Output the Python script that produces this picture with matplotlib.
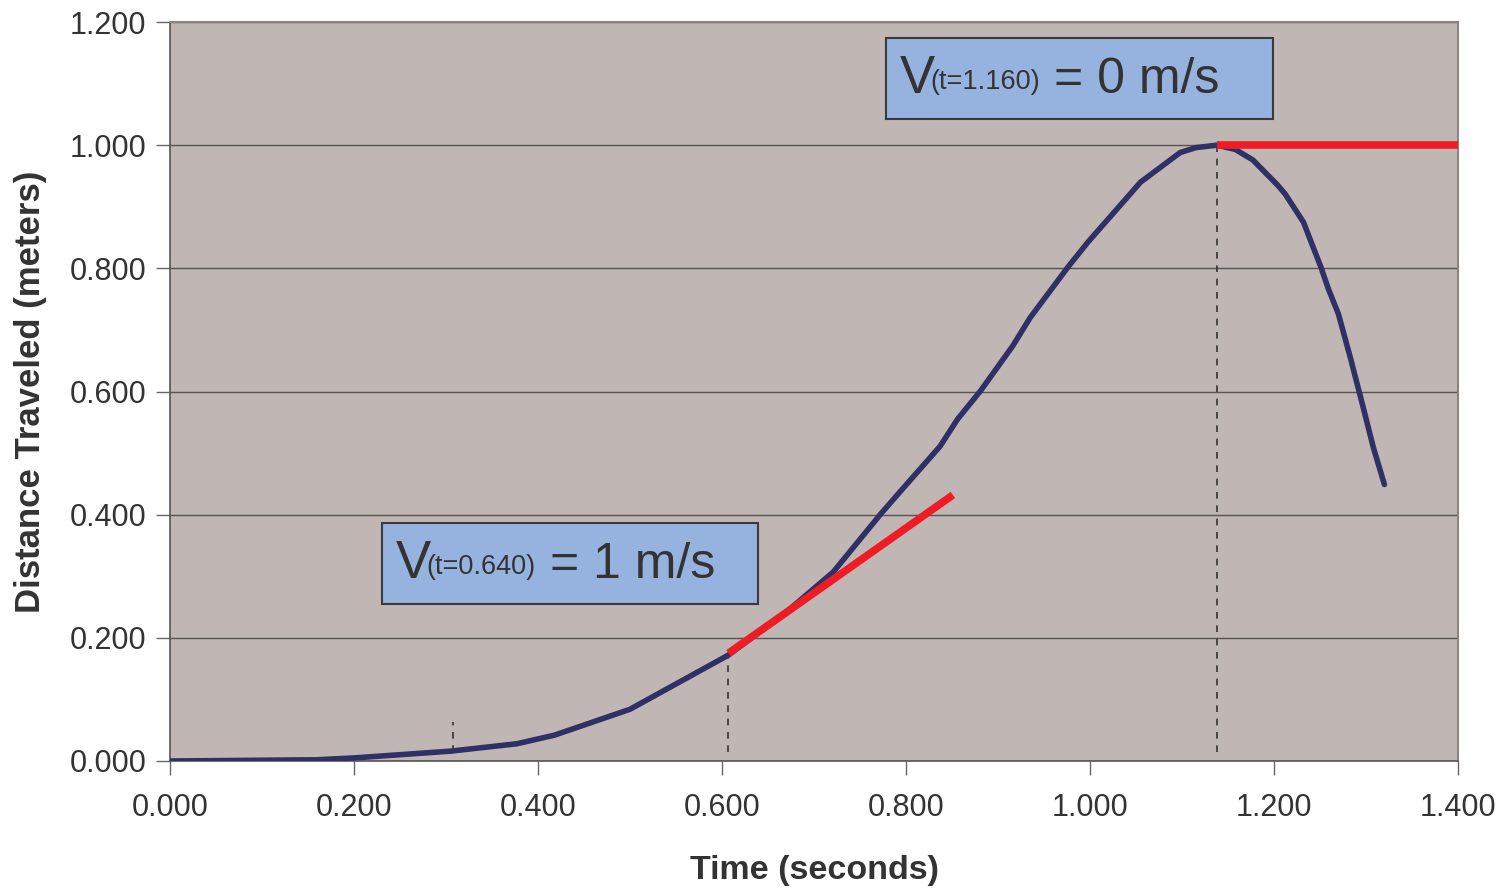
import matplotlib
matplotlib.use("Agg")
import matplotlib.pyplot as plt
from matplotlib.patches import Rectangle

plt.rcParams['font.family'] = ['Liberation Sans', 'DejaVu Sans']

# Data
time_s = [0.000, 0.160, 0.200, 0.305, 0.377, 0.418, 0.500, 0.607, 0.670, 0.721,
          0.773, 0.794, 0.837, 0.856, 0.881, 0.916, 0.935, 0.957, 0.976, 0.998,
          1.055, 1.098, 1.115, 1.138, 1.158, 1.177, 1.204, 1.212, 1.232, 1.251,
          1.259, 1.270, 1.283, 1.297, 1.308, 1.320]
distance_m = [0.000, 0.002, 0.005, 0.016, 0.028, 0.042, 0.084, 0.172, 0.242, 0.307,
              0.402, 0.438, 0.511, 0.555, 0.601, 0.674, 0.720, 0.764, 0.802, 0.843,
              0.940, 0.988, 0.996, 1.000, 0.993, 0.976, 0.935, 0.921, 0.875, 0.802,
              0.767, 0.726, 0.655, 0.574, 0.509, 0.449]

tangent1_x = [0.607, 0.851]
tangent1_y = [0.175, 0.432]
tangent2_x = [1.138, 1.400]
tangent2_y = [1.000, 1.000]

dash_x = [0.308, 0.607, 1.138]
dash_y0 = [0.015, 0.015, 0.015]
dash_y1 = [0.063, 0.172, 1.000]

xticks = [0.0, 0.2, 0.4, 0.6, 0.8, 1.0, 1.2, 1.4]
yticks = [0.0, 0.2, 0.4, 0.6, 0.8, 1.0, 1.2]

box1_sub = "(t=0.640)"
box1_main = "= 1 m/s"
box2_sub = "(t=1.160)"
box2_main = "= 0 m/s"

txt = '#333333'
fig = plt.figure(figsize=(15.03, 8.88), dpi=100)
ax = fig.add_axes([170/1503, 1-761/888, (1458-170)/1503, (761-22)/888])
ax.set_facecolor('#c0b6b3')
ax.set_xlim(0, 1.4)
ax.set_ylim(0, 1.2)
ax.set_xticks(xticks)
ax.set_yticks(yticks)
ax.set_xticklabels([f"{v:.3f}" for v in xticks])
ax.set_yticklabels([f"{v:.3f}" for v in yticks])
ax.tick_params(axis='both', direction='out', length=10, width=1, color='#666666',
               labelsize=22, labelcolor=txt)
ax.tick_params(axis='x', pad=13)
ax.tick_params(axis='y', pad=7)
ax.grid(axis='y', color='#555555', linewidth=1)
ax.set_axisbelow(True)
for s in ['left', 'bottom']:
    ax.spines[s].set_color('#555555')
    ax.spines[s].set_linewidth(1.2)
for s in ['top', 'right']:
    ax.spines[s].set_color('#8c8482')
    ax.spines[s].set_linewidth(1.5)

for x, y0, y1 in zip(dash_x, dash_y0, dash_y1):
    ax.plot([x, x], [y0, y1], color='#333333', linestyle=(0, (4, 4)), linewidth=1.2, zorder=2)

ax.plot(time_s, distance_m, color='#2f3066', linewidth=4, zorder=3,
        solid_joinstyle='round', solid_capstyle='round')
ax.plot(tangent1_x, tangent1_y, color='#ee1c25', linewidth=5.5, zorder=4, solid_capstyle='butt')
ax.plot(tangent2_x, tangent2_y, color='#ee1c25', linewidth=5.5, zorder=4, solid_capstyle='butt')

def px2d(px, py):
    return (px - 170) / 920.0, (761 - py) / 615.83

def box(x0, y0, x1, y1):
    a = px2d(x0, y1)
    b = px2d(x1, y0)
    ax.add_patch(Rectangle(a, b[0]-a[0], b[1]-a[1], facecolor='#95b3de',
                           edgecolor='#3a3a3a', linewidth=1.5, zorder=5))

box(382, 523, 758, 604)
box(886, 38, 1273, 119)

def label(vx, base, subx, mainx, sub, main):
    p = px2d(vx, base)
    ax.text(p[0], p[1], "V", fontsize=38, color=txt, ha='left', va='baseline', zorder=6)
    p = px2d(subx, base - 4)
    ax.text(p[0], p[1], sub, fontsize=19.5, color=txt, ha='left', va='baseline', zorder=6)
    p = px2d(mainx, base)
    ax.text(p[0], p[1], main, fontsize=36, color=txt, ha='left', va='baseline', zorder=6)

label(396, 578, 426, 550, box1_sub, box1_main)
label(900, 93, 930, 1054, box2_sub, box2_main)

ax.set_xlabel("Time (seconds)", fontsize=24.5, fontweight='bold', color=txt, labelpad=23)
ax.set_ylabel("Distance Traveled (meters)", fontsize=25, fontweight='bold', color=txt, labelpad=16)

fig.savefig("out.png", dpi=100)
